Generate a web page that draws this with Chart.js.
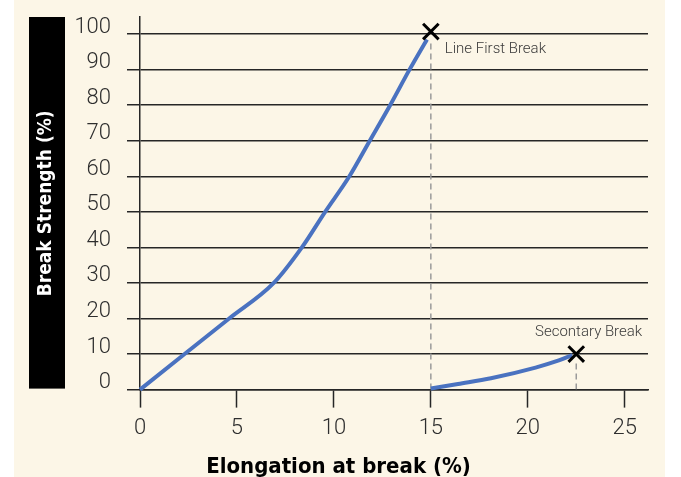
<!DOCTYPE html>
<html>
<head>
<meta charset="utf-8">
<script src="https://cdn.jsdelivr.net/npm/chart.js@4"></script>
<style>
  body { margin: 0; background: #fff; }
  #panel { position: absolute; left: 14px; top: 0; width: 651px; height: 477px; background: #fcf6e7; }
  canvas { display: block; }
</style>
</head>
<body>
<div id="panel"><canvas id="chart" width="651" height="477"></canvas></div>
<script>
// data
const firstX = [0, 2.3, 4.6, 6.9, 8.35, 9.55, 10.8, 11.85, 12.9, 13.9, 14.8];
const firstY = [0, 10, 20, 30, 40, 50, 60, 70, 80, 90, 98.5];
const secondX = [15, 16.4, 18.1, 20.4, 21.6, 22.3];
const secondY = [0.3, 1.6, 3.2, 6.2, 8.2, 9.7];
const breakX = [15, 22.5];
const breakY = [100.7, 10];
const breakLabels = ['Line First Break', 'Secontary Break'];
const xTicks = [0, 5, 10, 15, 20, 25];
const yTicks = [0, 10, 20, 30, 40, 50, 60, 70, 80, 90, 100];

const thin = "Roboto, 'Liberation Sans', sans-serif";
const heavy = "'DejaVu Sans Condensed', 'DejaVu Sans', sans-serif";
const dark = '#262626';
const blue = '#4a72c0';

const pts = (xs, ys) => xs.map((x, i) => ({x: x, y: ys[i]}));

// black box behind the y title
const titleBox = {
  id: 'titleBox',
  beforeDraw(chart) {
    const s = chart.scales.y;
    const c = chart.ctx;
    c.save();
    c.fillStyle = '#000';
    c.fillRect(s.left, chart.chartArea.top, 36, chart.chartArea.bottom - chart.chartArea.top - 1);
    c.restore();
  }
};

// text next to the break markers
const breakText = {
  id: 'breakText',
  afterDatasetsDraw(chart) {
    const c = chart.ctx, x = chart.scales.x, y = chart.scales.y;
    c.save();
    c.font = '300 15px ' + thin;
    c.fillStyle = '#3a3a3a';
    c.textBaseline = 'alphabetic';
    c.textAlign = 'left';
    c.fillText(breakLabels[0], x.getPixelForValue(breakX[0]) + 14, y.getPixelForValue(breakY[0]) + 21);
    c.textAlign = 'right';
    c.fillText(breakLabels[1], x.getPixelForValue(25.9), y.getPixelForValue(breakY[1]) - 18);
    c.restore();
  }
};

new Chart(document.getElementById('chart'), {
  type: 'scatter',
  data: {
    datasets: [
      {
        data: pts(breakX, breakY),
        pointStyle: 'crossRot',
        pointRadius: 11,
        pointBorderWidth: 3,
        borderColor: '#000',
        backgroundColor: '#000',
        showLine: false,
        clip: false
      },
      {
        data: pts(firstX, firstY),
        showLine: true,
        borderColor: blue,
        borderWidth: 4,
        pointRadius: 0,
        cubicInterpolationMode: 'monotone',
        clip: false
      },
      {
        data: pts(secondX, secondY),
        showLine: true,
        borderColor: blue,
        borderWidth: 4,
        pointRadius: 0,
        cubicInterpolationMode: 'monotone',
        clip: false
      },
      {
        data: [{x: breakX[0], y: 0}, {x: breakX[0], y: 98}],
        showLine: true,
        borderColor: '#9a9a9a',
        borderWidth: 1.5,
        borderDash: [6, 4],
        pointRadius: 0
      },
      {
        data: [{x: breakX[1], y: 0}, {x: breakX[1], y: 8}],
        showLine: true,
        borderColor: '#9a9a9a',
        borderWidth: 1.5,
        borderDash: [6, 4],
        pointRadius: 0
      }
    ]
  },
  options: {
    responsive: false,
    devicePixelRatio: 1,
    animation: false,
    layout: { padding: { left: 15, right: 17, top: 17, bottom: 0 } },
    scales: {
      x: {
        type: 'linear',
        min: 0,
        max: 26.2,
        afterBuildTicks: axis => { axis.ticks = xTicks.map(v => ({value: v})); },
        afterFit: axis => { axis.height = 64; axis.paddingLeft = 0; axis.paddingRight = 0; },
        border: { display: true, color: dark, width: 1.5 },
        grid: { drawOnChartArea: false, drawTicks: true, tickLength: 18, tickColor: dark, tickWidth: 1.5 },
        ticks: { color: '#2e2e2e', padding: 8, font: { family: thin, size: 22, weight: '300' }, maxRotation: 0 }
      },
      y: {
        type: 'linear',
        min: 0,
        max: 104.8,
        afterBuildTicks: axis => { axis.ticks = yTicks.map(v => ({value: v})); },
        afterFit: axis => { axis.width = 111; axis.paddingTop = 0; axis.paddingBottom = 0; },
        border: { display: true, color: dark, width: 1.5 },
        grid: { color: dark, lineWidth: 1.5, tickLength: 13, tickColor: dark },
        ticks: { color: '#2e2e2e', padding: 16, labelOffset: -7, font: { family: thin, size: 22, weight: '300' } },
        title: {
          display: true,
          text: 'Break Strength (%)',
          color: '#fff',
          font: { family: heavy, size: 19, weight: 'bold' },
          padding: { top: 6, bottom: 7 }
        }
      }
    },
    plugins: {
      legend: { display: false },
      tooltip: { enabled: false },
      title: {
        display: true,
        position: 'bottom',
        text: 'Elongation at break (%)',
        color: '#000',
        font: { family: heavy, size: 22, weight: 'bold' },
        padding: { top: 0, bottom: -3 }
      }
    }
  },
  plugins: [titleBox, breakText]
});
</script>
</body>
</html>
